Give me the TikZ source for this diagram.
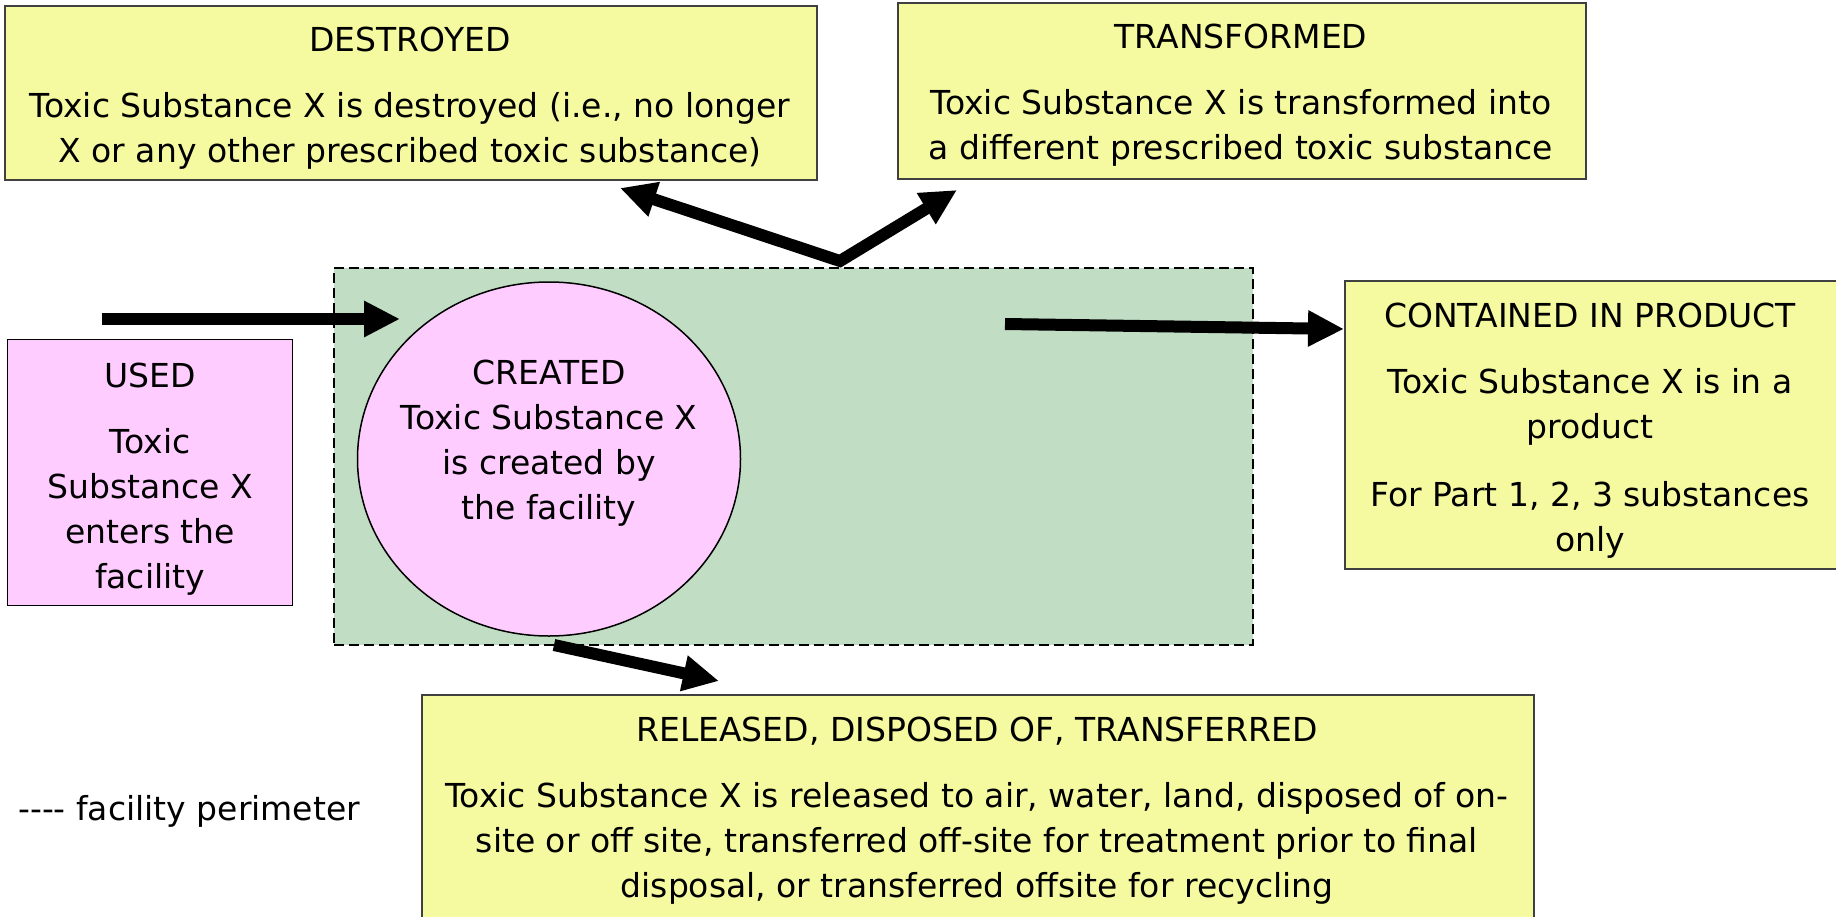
\documentclass[tikz,border=0pt]{standalone}
\usepackage{fontspec}
\setmainfont{DejaVu Sans}
\usetikzlibrary{arrows.meta,shapes.geometric}
\definecolor{boxyellow}{HTML}{F5FAA0}
\definecolor{boxpink}{HTML}{FFCCFF}
\definecolor{facgreen}{HTML}{C1DEC5}
\begin{document}
\begin{tikzpicture}[x=1pt,y=-1pt,
  ybox/.style={draw=black!75, line width=1.5pt, fill=boxyellow, inner sep=0pt, anchor=north west},
  pbox/.style={draw=black, line width=1.2pt, fill=boxpink, inner sep=0pt, anchor=north west},
  txt/.style={align=center, inner sep=0pt, font=\fontsize{33}{45}\selectfont, anchor=north},
  flow/.style={line width=12pt, -{Triangle[length=36pt,width=34pt]}},
  perimeter/.style={draw=black, line width=2pt, dash pattern=on 10pt off 5pt, fill=facgreen, inner sep=0pt, anchor=north west},
]
\useasboundingbox (0,0) rectangle (1836,916);
% facility perimeter
\node[perimeter, minimum width=919pt, minimum height=377pt] (facility) at (333,267) {};
% boxes
\node[ybox, minimum width=812pt, minimum height=174pt] (dest) at (4,5) {};
\node[ybox, minimum width=688pt, minimum height=176pt] (trans) at (897,2) {};
\node[ybox, minimum width=500pt, minimum height=288pt] (cont) at (1344,280) {};
\node[ybox, minimum width=1112pt, minimum height=240pt] (rel) at (421,694) {};
\node[pbox, minimum width=285pt, minimum height=266pt] (used) at (7,339) {};
\node[draw=black, line width=1.5pt, fill=boxpink, ellipse, inner sep=0pt, minimum width=383pt, minimum height=354pt] (created) at (549,459) {};
% texts
\node[txt] (destT) at (410,27) {DESTROYED\\[21pt]Toxic Substance X is destroyed (i.e., no longer\\X or any other prescribed toxic substance)};
\node[txt] (transT) at (1241,24) {TRANSFORMED\\[21pt]Toxic Substance X is transformed into\\a different prescribed toxic substance};
\node[txt] (contT) at (1590,303) {CONTAINED IN PRODUCT\\[21pt]Toxic Substance X is in a\\product\\[23pt]For Part 1, 2, 3 substances\\only};
\node[txt] (usedT) at (150,363) {USED\\[21pt]Toxic\\Substance X\\enters the\\facility};
\node[txt] (createdT) at (549,360) {CREATED\\Toxic Substance X\\is created by\\the facility};
\node[txt] (relT) at (977,717) {RELEASED, DISPOSED OF, TRANSFERRED\\[21pt]Toxic Substance X is released to air, water, land, disposed of on-\\site or off site, transferred off-site for treatment prior to final\\disposal, or transferred offsite for recycling};
\node[txt, anchor=base west] (legend) at (18,820) {-{}-{}-{}- facility perimeter};
% connectors
\coordinate (inStart) at (102,319);
\coordinate (inEnd) at (400,319);
\coordinate (vPoint) at (840,261);
\coordinate (dTip) at (620,188);
\coordinate (tTip) at (957,190);
\coordinate (cStart) at (1005,324);
\coordinate (cTip) at (cont.west |- 0,329);
\coordinate (rStart) at (554,645);
\coordinate (rTip) at (719,681);
\draw[flow] (inStart) -- (inEnd);
\draw[line width=12pt, miter limit=20, {Triangle[length=36pt,width=34pt]}-{Triangle[length=36pt,width=34pt]}] (dTip) -- (vPoint) -- (tTip);
\draw[flow] (cStart) -- (cTip);
\draw[flow] (rStart) -- (rTip);
\end{tikzpicture}
\end{document}
